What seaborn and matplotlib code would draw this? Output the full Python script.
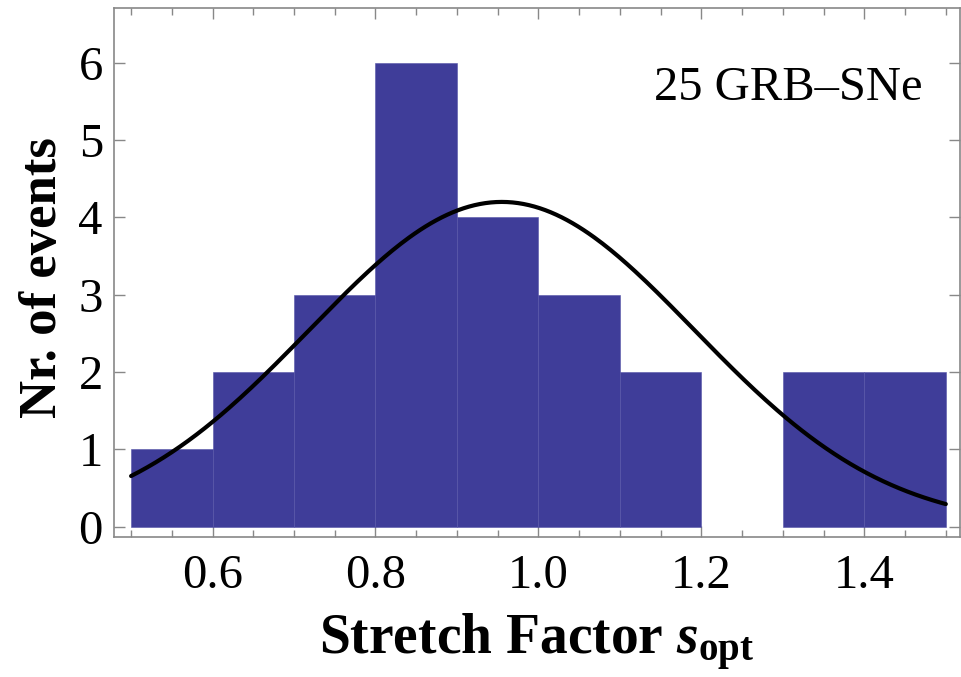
import matplotlib
matplotlib.use("Agg")
import matplotlib.pyplot as plt
import seaborn as sns
import numpy as np
from matplotlib.ticker import MultipleLocator

# histogram data
bin_edges = [0.5, 0.6, 0.7, 0.8, 0.9, 1.0, 1.1, 1.2, 1.3, 1.4, 1.5]
counts = [1, 2, 3, 6, 4, 3, 2, 0, 2, 2]
bin_centers = [0.55, 0.65, 0.75, 0.85, 0.95, 1.05, 1.15, 1.25, 1.35, 1.45]

# gaussian fit parameters (estimated)
fit_amp = 4.2
fit_mu = 0.955
fit_sigma = 0.236

sns.set_style("ticks")
plt.rcParams['font.family'] = ['Liberation Serif', 'DejaVu Serif']
plt.rcParams['mathtext.fontset'] = 'custom'
plt.rcParams['mathtext.rm'] = 'Liberation Serif'
plt.rcParams['mathtext.it'] = 'Liberation Serif:italic:bold'
plt.rcParams['mathtext.bf'] = 'Liberation Serif:bold'
plt.rcParams['text.color'] = 'black'
plt.rcParams['axes.labelcolor'] = 'black'
plt.rcParams['xtick.labelcolor'] = 'black'
plt.rcParams['ytick.labelcolor'] = 'black'

fig = plt.figure(figsize=(9.61, 6.77), dpi=100)
ax = fig.add_axes([0.1186, 0.2068, 0.880, 0.781])

bar_color = "#3F3D99"
sns.histplot(x=bin_centers, weights=counts, bins=bin_edges, ax=ax,
             color=bar_color, alpha=1, edgecolor="#5654a8", linewidth=0.4)
# no outline for empty bins
for p in ax.patches:
    if p.get_height() == 0:
        p.set_edgecolor("none")

xs = np.linspace(0.5, 1.5, 300)
ys = fit_amp * np.exp(-(xs - fit_mu) ** 2 / (2 * fit_sigma ** 2))
sns.lineplot(x=xs, y=ys, ax=ax, color="black", linewidth=3.0)

ax.set_xlim(0.479, 1.517)
ax.set_ylim(-0.134, 6.705)

ax.xaxis.set_major_locator(MultipleLocator(0.2))
ax.xaxis.set_minor_locator(MultipleLocator(0.05))
ax.yaxis.set_major_locator(MultipleLocator(1))
ax.tick_params(axis="both", which="both", direction="in", top=True, right=True,
               color="#888888", labelsize=35, width=1)
ax.tick_params(axis="both", which="major", length=8)
ax.tick_params(axis="both", which="minor", length=5)
ax.tick_params(axis="x", pad=12)
ax.tick_params(axis="y", pad=8)

for sp in ax.spines.values():
    sp.set_color("#888888")
    sp.set_linewidth(1.2)

ax.set_xticks([0.6, 0.8, 1.0, 1.2, 1.4])
ax.set_xticklabels(["0.6", "0.8", "1.0", "1.2", "1.4"])

ax.set_ylabel("Nr. of events", fontsize=38, fontweight="bold", labelpad=10)
ax.yaxis.set_label_coords(-0.055, 0.49)
ax.set_xlabel(r"Stretch Factor $s_{\mathbf{opt}}$", fontsize=40, fontweight="bold", labelpad=10)

ax.text(0.956, 0.85, "25 GRB–SNe", transform=ax.transAxes, ha="right", va="center",
        fontsize=35)

fig.savefig("out.png", dpi=100)
